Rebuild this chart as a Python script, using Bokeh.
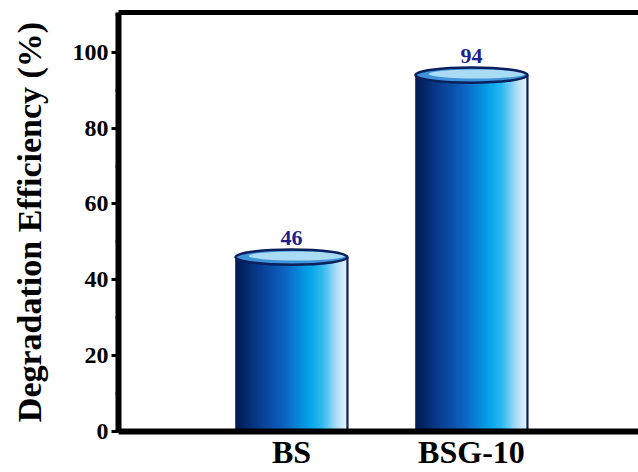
import numpy as np
from bokeh.plotting import figure
from bokeh.models import Range1d, FixedTicker, LinearAxis
from bokeh.embed import file_html
from bokeh.resources import INLINE
from bokeh.core.properties import value

# Data
categories = ["BS", "BSG-10"]
efficiency = [46, 94]
y_ticks = [0, 20, 40, 60, 80, 100]

FONT = "Liberation Serif"
BAR_W = 0.622          # bar width in category units
CAP_H = 4.0            # height of the cylinder's top ellipse in data units
N_STRIPS = 70          # vertical strips used to fake the horizontal gradient

# horizontal shading across a cylinder: (fraction of width, rgb)
shade_stops = [
    (0.00, (3, 26, 80)),
    (0.18, (8, 56, 136)),
    (0.45, (14, 102, 196)),
    (0.66, (4, 164, 232)),
    (0.78, (50, 186, 240)),
    (0.90, (168, 220, 245)),
    (1.00, (234, 246, 252)),
]


def shade(t):
    for (t0, c0), (t1, c1) in zip(shade_stops[:-1], shade_stops[1:]):
        if t0 <= t <= t1:
            f = (t - t0) / (t1 - t0)
            r, g, b = (int(round(a + (b_ - a) * f)) for a, b_ in zip(c0, c1))
            return "#%02x%02x%02x" % (r, g, b)
    return "#%02x%02x%02x" % shade_stops[-1][1]


xs = list(range(len(categories)))

p = figure(
    width=638, height=472,
    output_backend="svg", toolbar_location=None,
    x_range=Range1d(-0.961, 1.928), y_range=Range1d(0, 110.5),
    min_border_left=118, min_border_right=0,
    min_border_top=12, min_border_bottom=0,
)
p.outline_line_color = None
p.xgrid.visible = False
p.ygrid.visible = False
p.background_fill_color = "white"
p.border_fill_color = "white"

# cylinder bodies, drawn as thin overlapping vertical strips
left, right, top, colors = [], [], [], []
for x, v in zip(xs, efficiency):
    x0 = x - BAR_W / 2
    step = BAR_W / N_STRIPS
    for i in range(N_STRIPS):
        left.append(x0 + i * step)
        right.append(min(x0 + (i + 1.6) * step, x0 + BAR_W))
        top.append(v)
        colors.append(shade((i + 0.5) / N_STRIPS))
p.quad(left=left, right=right, bottom=0, top=top,
       fill_color=colors, line_color=colors, line_width=0.6)

# dark outline on the right side of each cylinder
p.segment(x0=[x + BAR_W / 2 for x in xs], y0=[0] * len(xs),
          x1=[x + BAR_W / 2 for x in xs], y1=efficiency,
          line_color="#0b1f5c", line_width=2.2)

# top caps
p.ellipse(x=xs, y=efficiency, width=BAR_W, height=CAP_H,
          fill_color="#3f93d8", line_color=None)
p.ellipse(x=[x + 0.03 for x in xs], y=[v + 0.3 for v in efficiency],
          width=BAR_W * 0.86, height=CAP_H * 0.6,
          fill_color="#a9dcf4", line_color=None)
p.ellipse(x=xs, y=efficiency, width=BAR_W, height=CAP_H,
          fill_color=None, line_color="#0b1f5c", line_width=2.5)

# value labels
p.text(x=xs, y=[v + 5.0 for v in efficiency], text=[str(v) for v in efficiency],
       text_align="center", text_baseline="alphabetic",
       text_font=value(FONT), text_font_style="bold",
       text_font_size="22px", text_color="#1c1f8e")

# y axis
ya = p.yaxis[0]
ya.ticker = FixedTicker(ticks=y_ticks, minor_ticks=list(range(0, 111, 10)))
ya.axis_label = "Degradation Efficiency (%)"
ya.axis_label_text_font = FONT
ya.axis_label_text_font_style = "bold"
ya.axis_label_text_font_size = "34px"
ya.axis_label_text_color = "black"
ya.axis_label_standoff = 22
ya.major_label_text_font = FONT
ya.major_label_text_font_style = "bold"
ya.major_label_text_font_size = "24px"
ya.major_label_text_color = "black"
ya.major_label_standoff = 3
ya.axis_line_width = 6
ya.axis_line_color = "black"
ya.major_tick_line_width = 3
ya.major_tick_out = 7
ya.major_tick_in = 0
ya.minor_tick_line_width = 2
ya.minor_tick_out = 3
ya.minor_tick_in = 0

# x axis with category names
xa = p.xaxis[0]
xa.ticker = FixedTicker(ticks=xs)
xa.major_label_overrides = {x: c for x, c in zip(xs, categories)}
xa.major_label_text_font = FONT
xa.major_label_text_font_style = "bold"
xa.major_label_text_font_size = "32px"
xa.major_label_text_color = "black"
xa.major_label_standoff = 2
xa.axis_line_width = 6
xa.axis_line_color = "black"
xa.major_tick_out = 0
xa.major_tick_in = 0
xa.minor_tick_out = 0
xa.minor_tick_in = 0

# top frame line
top_axis = LinearAxis(ticker=FixedTicker(ticks=[]),
                      axis_line_width=5, axis_line_color="black",
                      major_tick_out=0, major_tick_in=0,
                      minor_tick_out=0, minor_tick_in=0)
p.add_layout(top_axis, "above")

open("out.html", "w").write(file_html(p, INLINE))
